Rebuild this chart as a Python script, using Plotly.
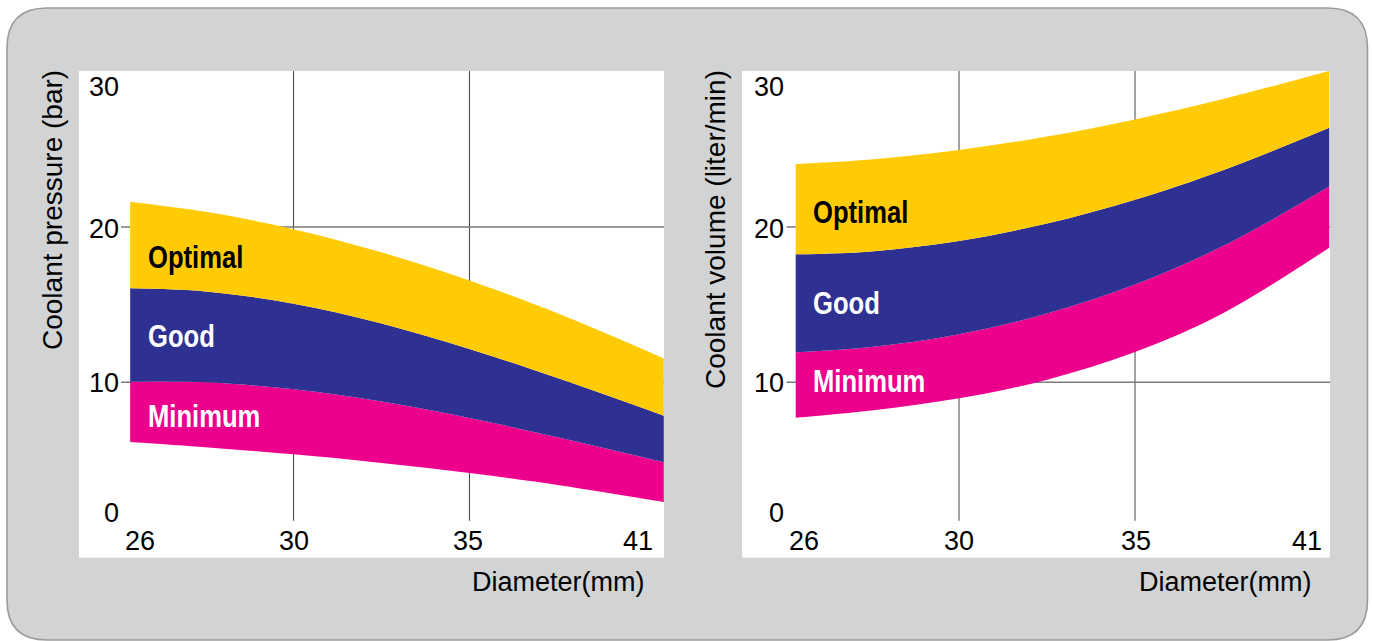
import plotly.graph_objects as go

W, H = 1373, 641

# ---------------- data ----------------
diameter = [25.36, 27.5, 30.0, 32.5, 35.0, 37.5, 40.52]

pressure_min_low = [6.16, 5.82, 5.36, 4.81, 4.16, 3.39, 2.29]
pressure_min_high = [10.04, 10.0, 9.55, 8.76, 7.7, 6.46, 4.85]
pressure_good_high = [16.05, 15.85, 15.06, 13.79, 12.15, 10.27, 7.85]
pressure_opt_high = [21.63, 20.98, 19.86, 18.37, 16.55, 14.44, 11.54]

volume_min_low = [7.72, 8.18, 8.97, 10.17, 11.95, 14.45, 18.67]
volume_min_high = [11.93, 12.27, 13.1, 14.43, 16.3, 18.77, 22.6]
volume_good_high = [18.24, 18.43, 19.1, 20.23, 21.76, 23.66, 26.39]
volume_opt_high = [24.06, 24.35, 24.96, 25.83, 26.93, 28.24, 30.05]

band_names = ["Minimum", "Good", "Optimal"]
band_colors = ["#EC008C", "#2E3192", "#FFCB05"]
band_text_colors = ["white", "white", "black"]

x_tick_labels = ["26", "30", "35", "41"]
y_tick_labels = ["0", "10", "20", "30"]
grid_x = [30, 35]
grid_y = [10, 20]

x_title = "Diameter(mm)"
y_titles = ["Coolant pressure (bar)", "Coolant volume (liter/min)"]


# ---------------- helpers ----------------
def px(x):
    return x / W


def py(y):
    return 1 - y / H


fig = go.Figure()


def add_bands(lows, highs, xa, ya):
    fig.add_trace(go.Scatter(
        x=diameter, y=lows, mode="lines", line=dict(width=0, shape="spline"),
        xaxis=xa, yaxis=ya, showlegend=False, hoverinfo="skip"))
    for vals, col, name in zip(highs, band_colors, band_names):
        fig.add_trace(go.Scatter(
            x=diameter, y=vals, mode="lines", name=name,
            line=dict(width=0, shape="spline"),
            fill="tonexty", fillcolor=col,
            xaxis=xa, yaxis=ya, showlegend=False))


add_bands(pressure_min_low,
          [pressure_min_high, pressure_good_high, pressure_opt_high], "x", "y")
add_bands(volume_min_low,
          [volume_min_high, volume_good_high, volume_opt_high], "x2", "y2")

# ---------------- layout geometry ----------------
Y_RANGE = [-1.294, 30.045]
left_dom = [px(79), px(664)]
right_dom = [px(742), px(1330)]
y_dom = [py(557.7), py(71)]
LEFT_XR = [23.906, 40.526]
RIGHT_XR = [23.835, 40.54]

axis_common = dict(showgrid=False, zeroline=False, showticklabels=False,
                   showline=False, ticks="", fixedrange=True)

fig.update_layout(
    width=W, height=H,
    margin=dict(l=0, r=0, t=0, b=0),
    paper_bgcolor="white",
    plot_bgcolor="rgba(0,0,0,0)",
    xaxis=dict(domain=left_dom, range=LEFT_XR, **axis_common),
    yaxis=dict(domain=y_dom, range=Y_RANGE, **axis_common),
    xaxis2=dict(domain=right_dom, range=RIGHT_XR, anchor="y2", **axis_common),
    yaxis2=dict(domain=y_dom, range=Y_RANGE, anchor="x2", **axis_common),
)

# rounded grey panel
x0, y0, x1, y1, r = 7, 8, 1367.5, 640, 40
path = (
    f"M {px(x0 + r)},{py(y0)} L {px(x1 - r)},{py(y0)} "
    f"Q {px(x1)},{py(y0)} {px(x1)},{py(y0 + r)} "
    f"L {px(x1)},{py(y1 - r)} Q {px(x1)},{py(y1)} {px(x1 - r)},{py(y1)} "
    f"L {px(x0 + r)},{py(y1)} Q {px(x0)},{py(y1)} {px(x0)},{py(y1 - r)} "
    f"L {px(x0)},{py(y0 + r)} Q {px(x0)},{py(y0)} {px(x0 + r)},{py(y0)} Z"
)
shapes = [dict(type="path", path=path, xref="paper", yref="paper",
               fillcolor="#D1D3D4", line=dict(color="#9A9A9A", width=1.6),
               layer="below")]

# white plotting areas
for dom in (left_dom, right_dom):
    shapes.append(dict(type="rect", xref="paper", yref="paper",
                       x0=dom[0], x1=dom[1], y0=y_dom[0], y1=y_dom[1],
                       fillcolor="white", line=dict(width=0), layer="below"))

# grid lines
for xa, ya, xr, vcol, vw in (("x", "y", LEFT_XR, "#4A4A4A", 1.1),
                            ("x2", "y2", RIGHT_XR, "#7A7A7A", 1.4)):
    for gx in grid_x:
        shapes.append(dict(type="line", xref=xa, yref=ya, x0=gx, x1=gx,
                           y0=1.09, y1=Y_RANGE[1],
                           line=dict(color=vcol, width=vw), layer="below"))
    for gy in grid_y:
        shapes.append(dict(type="line", xref=xa, yref=ya, x0=25.1, x1=xr[1],
                           y0=gy, y1=gy,
                           line=dict(color="#7A7A7A", width=1.5), layer="below"))
fig.update_layout(shapes=shapes)

# ---------------- text ----------------
TICK_FONT = dict(family="Liberation Sans, Arial, sans-serif", size=27, color="black")
ann = []

ytick_y = [513, 382.5, 228.5, 87]
xtick_pos = {"left": [139.5, 293.5, 467.6, 638.4], "right": [804, 959, 1135.5, 1307]}
for side, yx in (("left", 121), ("right", 786)):
    for lab, yy in zip(y_tick_labels, ytick_y):
        ann.append(dict(x=px(yx), y=py(yy), xref="paper", yref="paper", text=lab,
                        showarrow=False, xanchor="right", yanchor="middle", font=TICK_FONT))
    for lab, xx in zip(x_tick_labels, xtick_pos[side]):
        ann.append(dict(x=px(xx), y=py(540.5), xref="paper", yref="paper", text=lab,
                        showarrow=False, xanchor="center", yanchor="middle", font=TICK_FONT))

for xr_edge in (647, 1314):
    ann.append(dict(x=px(xr_edge), y=py(582), xref="paper", yref="paper", text=x_title,
                    showarrow=False, xanchor="right", yanchor="middle", font=TICK_FONT))

for title, cx, cy in ((y_titles[0], 52, 210), (y_titles[1], 715, 230)):
    ann.append(dict(x=px(cx), y=py(cy), xref="paper", yref="paper", text=title,
                    textangle=-90, showarrow=False, xanchor="center", yanchor="middle",
                    font=dict(family="Liberation Sans, Arial, sans-serif", size=28, color="black")))

band_label_y = {"left": [415.8, 335.8, 256.7], "right": [380.8, 302.5, 212.5]}
for side, lx in (("left", 146), ("right", 811)):
    for name, tc, yy in zip(band_names, band_text_colors, band_label_y[side]):
        ann.append(dict(x=px(lx), y=py(yy), xref="paper", yref="paper",
                        text=f"<b>{name}</b>", showarrow=False,
                        xanchor="left", yanchor="middle",
                        font=dict(family="Liberation Sans, Arial, sans-serif", size=32, color=tc)))

fig.update_layout(annotations=ann)

post = """
document.body.style.margin = '0';
var names = ['Minimum', 'Good', 'Optimal'];
document.querySelectorAll('text.annotation-text').forEach(function (t) {
  if (names.indexOf(t.textContent.trim()) >= 0) {
    t.style.transformBox = 'fill-box';
    t.style.transformOrigin = 'left center';
    t.style.transform = 'scaleX(0.8)';
  }
});
"""

fig.write_html("out.html", post_script=post, config={"displayModeBar": False})
